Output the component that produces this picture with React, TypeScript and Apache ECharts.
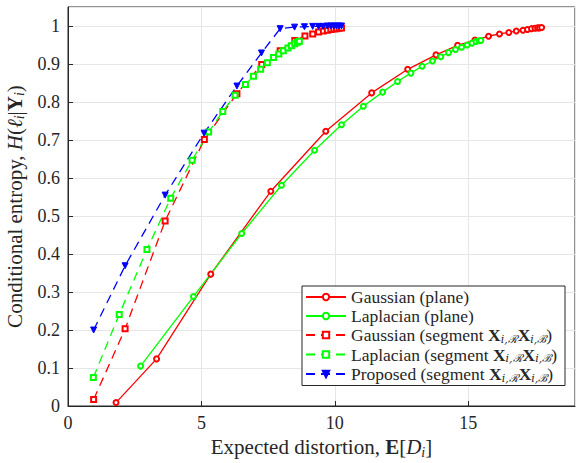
import React, { useEffect, useRef } from "react";
import * as echarts from "echarts";

// ---- data ----
const gaussPlaneX = [1.80, 3.32, 5.35, 7.60, 9.66, 11.38, 12.73, 13.79, 14.60, 15.25, 15.76, 16.17, 16.52, 16.80, 17.05, 17.22, 17.37, 17.50, 17.60, 17.67, 17.75];
const gaussPlaneY = [0.009, 0.124, 0.347, 0.565, 0.723, 0.824, 0.886, 0.924, 0.949, 0.963, 0.973, 0.979, 0.983, 0.987, 0.989, 0.991, 0.993, 0.994, 0.995, 0.995, 0.996];

const laplPlaneX = [2.72, 4.70, 6.51, 8.00, 9.24, 10.25, 11.07, 11.79, 12.35, 12.85, 13.27, 13.66, 13.97, 14.26, 14.52, 14.75, 14.96, 15.14, 15.29, 15.40, 15.47];
const laplPlaneY = [0.105, 0.288, 0.454, 0.581, 0.673, 0.740, 0.789, 0.826, 0.854, 0.876, 0.894, 0.908, 0.919, 0.930, 0.938, 0.944, 0.950, 0.955, 0.959, 0.961, 0.962];

const gaussSegX = [0.96, 2.14, 3.64, 5.11, 6.33, 7.26, 7.95, 8.50, 8.88, 9.17, 9.39, 9.57, 9.72, 9.85, 9.96, 10.06, 10.16, 10.25];
const gaussSegY = [0.017, 0.203, 0.487, 0.701, 0.822, 0.899, 0.935, 0.962, 0.974, 0.979, 0.984, 0.987, 0.989, 0.991, 0.992, 0.993, 0.994, 0.995];

const laplSegX = [0.95, 1.92, 2.96, 3.85, 4.65, 5.27, 5.80, 6.26, 6.65, 6.95, 7.22, 7.47, 7.70, 7.90, 8.07, 8.24, 8.37, 8.50, 8.60, 8.67];
const laplSegY = [0.075, 0.241, 0.412, 0.547, 0.647, 0.721, 0.775, 0.818, 0.846, 0.868, 0.886, 0.903, 0.917, 0.926, 0.935, 0.942, 0.948, 0.953, 0.957, 0.960];

const propSegX = [0.96, 2.14, 3.64, 5.10, 6.33, 7.25, 7.95, 8.49, 8.86, 9.17, 9.39, 9.56, 9.72, 9.85, 9.96, 10.06, 10.16, 10.25];
const propSegY = [0.200, 0.369, 0.555, 0.718, 0.842, 0.929, 0.993, 0.997, 0.998, 0.999, 0.999, 0.999, 1.0, 1.0, 1.0, 1.0, 1.0, 1.0];

const seriesNames = [
  "Gaussian (plane)",
  "Laplacian (plane)",
  "Gaussian (segment)",
  "Laplacian (segment)",
  "Proposed (segment)",
];

const xTicks = [0, 5, 10, 15];
const yTicks = [0, 0.1, 0.2, 0.3, 0.4, 0.5, 0.6, 0.7, 0.8, 0.9, 1];

const zip = (xs: number[], ys: number[]) => xs.map((x, i) => [x, ys[i]]);

const FONT = "Liberation Serif";
const MATHFONT = "DejaVu Serif";
const TXT = "#262626";

const legendRich = {
  n: { fontFamily: FONT, fontSize: 17.5, color: TXT, lineHeight: 19 },
  b: { fontFamily: FONT, fontSize: 17.5, fontWeight: "bold", color: TXT, lineHeight: 19 },
  s: { fontFamily: MATHFONT, fontSize: 11, fontStyle: "italic", color: TXT, verticalAlign: "bottom", lineHeight: 12 },
};

const titleRich = {
  n: { fontFamily: FONT, fontSize: 21, color: TXT, lineHeight: 24 },
  b: { fontFamily: FONT, fontSize: 21, fontWeight: "bold", color: TXT, lineHeight: 24 },
  i: { fontFamily: FONT, fontSize: 21, fontStyle: "italic", color: TXT, lineHeight: 24 },
  s: { fontFamily: FONT, fontSize: 14, fontStyle: "italic", color: TXT, verticalAlign: "bottom", lineHeight: 16 },
};

const segLabel = (w: string) =>
  `{n|${w} (segment }{b|X}{s|i,ℛ}{b|X}{s|i,ℬ}{n|)}`;

export default function App() {
  const ref = useRef<HTMLDivElement>(null);
  useEffect(() => {
    document.body.style.margin = "0";
    if (!ref.current) return;
    const chart = echarts.init(ref.current, undefined, { renderer: "svg" });
    const solid = (name: string, color: string, data: number[][]) => ({
      name,
      type: "line",
      data,
      symbol: "emptyCircle",
      symbolSize: 5,
      showSymbol: true,
      lineStyle: { color, width: 1.3, type: "solid" },
      itemStyle: { color, borderColor: color, borderWidth: 1 },
    });
    const dashed = (name: string, color: string, data: number[][], symbol: string, size: number, rot = 0) => ({
      name,
      type: "line",
      data,
      symbol,
      symbolSize: size,
      symbolRotate: rot,
      lineStyle: { color, width: 1.3, type: [9, 6] },
      itemStyle: { color, borderColor: color, borderWidth: 1 },
    });
    chart.setOption({
      animation: false,
      backgroundColor: "#ffffff",
      textStyle: { fontFamily: FONT },
      grid: {
        left: 68,
        right: 1,
        top: 7,
        bottom: 57,
        outerBoundsMode: "none",
        containLabel: false,
        show: true,
        borderColor: TXT,
        borderWidth: 1,
        backgroundColor: "transparent",
      },
      legend: {
        orient: "vertical",
        left: 302,
        top: 286,
        backgroundColor: "#ffffff",
        borderColor: TXT,
        borderWidth: 1,
        borderRadius: 0,
        padding: [2, 8, 2, 3],
        itemWidth: 40,
        itemHeight: 8,
        itemGap: 1,
        data: seriesNames,
        formatter: (name: string) => {
          if (name === seriesNames[0]) return "{n|Gaussian (plane)}";
          if (name === seriesNames[1]) return "{n|Laplacian (plane)}";
          if (name === seriesNames[2]) return segLabel("Gaussian");
          if (name === seriesNames[3]) return segLabel("Laplacian");
          return segLabel("Proposed");
        },
        textStyle: { fontFamily: FONT, fontSize: 17.5, color: TXT, rich: legendRich },
      },
      xAxis: {
        type: "value",
        min: 0,
        max: 19,
        interval: 5,
        axisLine: { show: true, lineStyle: { color: TXT, width: 1 } },
        axisTick: { show: true, inside: true, length: 5, lineStyle: { color: TXT } },
        axisLabel: {
          showMaxLabel: false,
          margin: 8,
          fontFamily: FONT,
          fontSize: 18,
          color: TXT,
          formatter: (v: number) => (xTicks.includes(v) ? String(v) : ""),
        },
        splitLine: { show: true, lineStyle: { color: "#e6e6e6", width: 1 } },
        name: "{n|Expected distortion, }{b|E}{n|[}{i|D}{s|i}{n|]}",
        nameLocation: "middle",
        nameGap: 23,
        nameTextStyle: { fontFamily: FONT, fontSize: 21, color: TXT, rich: titleRich },
      },
      yAxis: {
        type: "value",
        min: 0,
        max: 1.05,
        interval: 0.1,
        axisLine: { show: true, lineStyle: { color: TXT, width: 1 } },
        axisTick: { show: true, inside: true, length: 5, lineStyle: { color: TXT } },
        axisLabel: {
          showMaxLabel: false,
          margin: 8,
          fontFamily: FONT,
          fontSize: 18,
          color: TXT,
          formatter: (v: number) => {
            const r = Math.round(v * 10) / 10;
            return yTicks.includes(r) && Math.abs(r - v) < 1e-6 ? String(r) : "";
          },
        },
        splitLine: { show: true, lineStyle: { color: "#e6e6e6", width: 1 } },
        name: "{n|Conditional entropy, }{i|H}{n|(}{i|ℓ}{s|i}{n||}{b|Y}{s|i}{n|)}",
        nameLocation: "middle",
        nameRotate: 90,
        nameGap: 36,
        nameTextStyle: { fontFamily: FONT, fontSize: 21, color: TXT, rich: titleRich },
      },
      series: [
        solid(seriesNames[0], "#ff0000", zip(gaussPlaneX, gaussPlaneY)),
        solid(seriesNames[1], "#00ff00", zip(laplPlaneX, laplPlaneY)),
        dashed(seriesNames[2], "#ff0000", zip(gaussSegX, gaussSegY), "emptyRect", 5),
        dashed(seriesNames[3], "#00ff00", zip(laplSegX, laplSegY), "emptyRect", 5),
        dashed(seriesNames[4], "#0000ff", zip(propSegX, propSegY), "triangle", 6, 180),
      ],
    });
    return () => chart.dispose();
  }, []);
  return (
    <div
      ref={ref}
      style={{ position: "absolute", left: 0, top: 0, width: 576, height: 463 }}
    />
  );
}
